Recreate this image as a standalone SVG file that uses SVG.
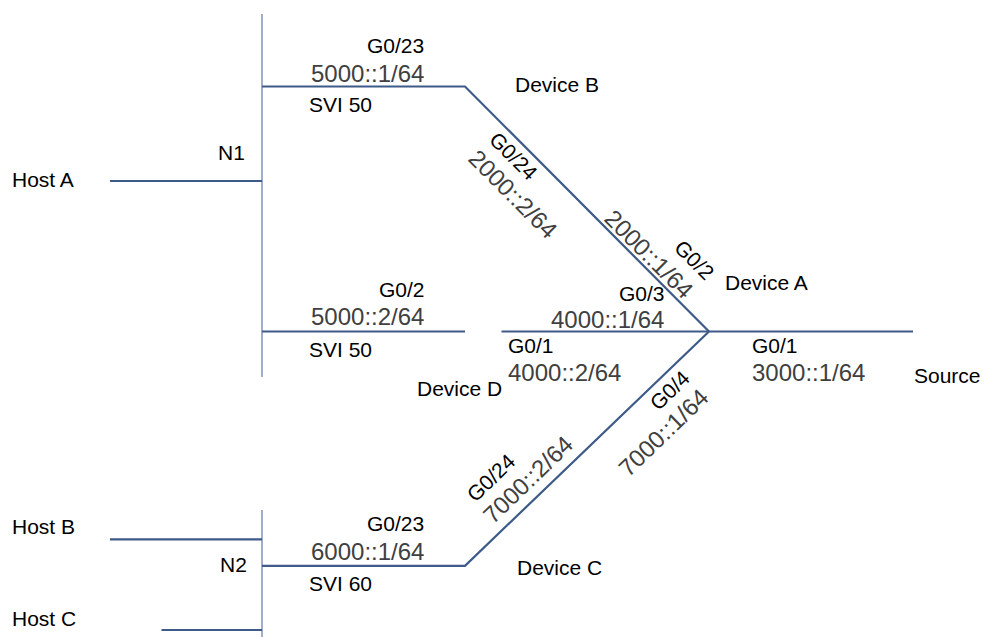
<svg xmlns="http://www.w3.org/2000/svg" width="982" height="637" viewBox="0 0 982 637">
<style>
text{font-family:"Liberation Sans",Arial,sans-serif}
.l{font-size:21px;fill:#000}
.a{font-size:24px;fill:#404040}
.c{stroke:#3d5a88;stroke-width:2.2;fill:none}
.v{stroke:#8393b3;stroke-width:1.5;fill:none}
</style>
<rect width="982" height="637" fill="#fff"/>
<g id="connectors">
<line class="v" x1="262" y1="14" x2="262" y2="377"/>
<line class="v" x1="262" y1="510" x2="262" y2="637"/>
<line class="c" x1="110" y1="181" x2="262" y2="181"/>
<polyline class="c" points="262,86.5 465,86.5 709,331.5"/>
<line class="c" x1="262" y1="331.5" x2="465" y2="331.5"/>
<line class="c" x1="501.5" y1="331.5" x2="913" y2="331.5"/>
<polyline class="c" points="709,331.5 465,565.8 262,565.8"/>
<line class="c" x1="110" y1="539.3" x2="262" y2="539.3"/>
<line class="c" x1="161.5" y1="630" x2="262" y2="630"/>
</g>
<g id="hostA"><text class="l" x="12" y="187">Host A</text></g>
<g id="hostB"><text class="l" x="12" y="534">Host B</text></g>
<g id="hostC"><text class="l" x="12" y="626">Host C</text></g>
<g id="n1"><text class="l" x="218" y="160">N1</text></g>
<g id="n2"><text class="l" x="220" y="572">N2</text></g>
<g id="deviceB"><text class="l" x="515" y="92">Device B</text></g>
<g id="deviceA"><text class="l" x="725" y="290">Device A</text></g>
<g id="deviceD"><text class="l" x="417" y="396">Device D</text></g>
<g id="deviceC"><text class="l" x="517" y="575">Device C</text></g>
<g id="source"><text class="l" x="914" y="383">Source</text></g>
<g id="labels">
<text class="l" x="367" y="53">G0/23</text>
<text class="a" x="311" y="81.5">5000::1/64</text>
<text class="l" x="309" y="111.5">SVI 50</text>
<text class="l" x="379" y="297">G0/2</text>
<text class="a" x="311" y="324.5">5000::2/64</text>
<text class="l" x="309" y="357">SVI 50</text>
<text class="l" x="508" y="353">G0/1</text>
<text class="a" x="508" y="381">4000::2/64</text>
<text class="l" x="619" y="301">G0/3</text>
<text class="a" x="551" y="327.5">4000::1/64</text>
<text class="l" x="752" y="353">G0/1</text>
<text class="a" x="752" y="381">3000::1/64</text>
<text class="l" x="367" y="531">G0/23</text>
<text class="a" x="311" y="560">6000::1/64</text>
<text class="l" x="309" y="591">SVI 60</text>
<text class="l" transform="translate(488,141) rotate(45)">G0/24</text>
<text class="a" transform="translate(467,160) rotate(45)">2000::2/64</text>
<text class="a" transform="translate(603,220) rotate(45)">2000::1/64</text>
<text class="l" transform="translate(673,249) rotate(45)">G0/2</text>
<text class="l" transform="translate(475.5,503) rotate(-44)">G0/24</text>
<text class="a" transform="translate(493,525) rotate(-44)">7000::2/64</text>
<text class="l" transform="translate(658.5,411.5) rotate(-44)">G0/4</text>
<text class="a" transform="translate(628.5,478) rotate(-44)">7000::1/64</text>
</g>
</svg>
